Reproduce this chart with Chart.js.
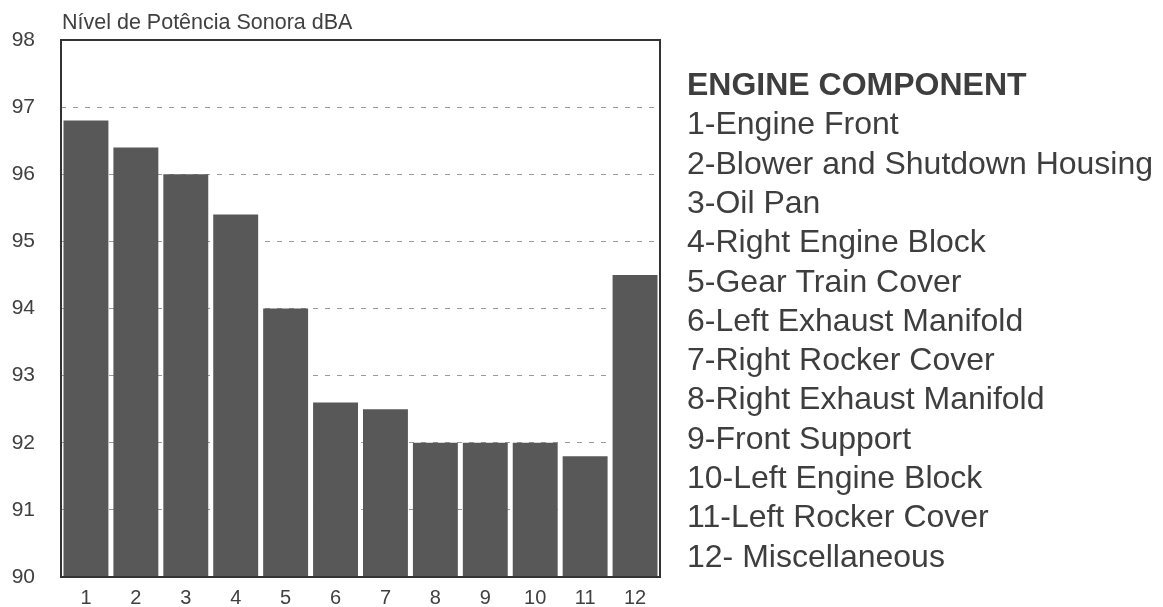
<!DOCTYPE html>
<html>
<head>
<meta charset="utf-8">
<script src="https://cdn.jsdelivr.net/npm/chart.js@4/dist/chart.umd.min.js"></script>
<style>
  html, body { margin: 0; padding: 0; background: #ffffff; }
  #wrap { width: 1163px; height: 607px; position: relative; }
</style>
</head>
<body>
<div id="wrap"><canvas id="c" width="1163" height="607"></canvas></div>
<script>
// ---- data ----
const categories = ['1', '2', '3', '4', '5', '6', '7', '8', '9', '10', '11', '12'];
const soundLevels = [96.8, 96.4, 96.0, 95.4, 94.0, 92.6, 92.5, 92.0, 92.0, 92.0, 91.8, 94.5];
const yTickValues = [90, 91, 92, 93, 94, 95, 96, 97, 98];
const axisTitle = 'Nível de Potência Sonora dBA';
const legendTitle = 'ENGINE COMPONENT';
const componentNames = [
  '1-Engine Front',
  '2-Blower and Shutdown Housing',
  '3-Oil Pan',
  '4-Right Engine Block',
  '5-Gear Train Cover',
  '6-Left Exhaust Manifold',
  '7-Right Rocker Cover',
  '8-Right Exhaust Manifold',
  '9-Front Support',
  '10-Left Engine Block',
  '11-Left Rocker Cover',
  '12- Miscellaneous'
];

// ---- styles ----
const FONT = '"Liberation Sans", Arial, Helvetica, sans-serif';
const TEXT = '#404040';

const framePlugin = {
  id: 'frame',
  afterDatasetsDraw(chart) {
    const a = chart.chartArea, ctx = chart.ctx;
    ctx.save();
    ctx.strokeStyle = '#333333';
    ctx.lineWidth = 2;
    ctx.strokeRect(a.left, a.top, a.right - a.left, a.bottom - a.top);
    ctx.restore();
  },
  afterDraw(chart) {
    const a = chart.chartArea, ctx = chart.ctx;
    ctx.save();
    // axis title above plot
    ctx.fillStyle = TEXT;
    ctx.font = '21.5px ' + FONT;
    ctx.textAlign = 'left';
    ctx.textBaseline = 'alphabetic';
    ctx.fillText(axisTitle, a.left + 1, 29);

    // component list on the right
    const x0 = 687;
    const y0 = 95, step = 39.3;
    ctx.fillStyle = '#3e3e3e';
    ctx.font = 'bold 32px ' + FONT;
    ctx.fillText(legendTitle, x0, y0);
    ctx.font = '32px ' + FONT;
    componentNames.forEach((name, i) => {
      ctx.fillText(name, x0, y0 + (i + 1) * step);
    });
    ctx.restore();
  }
};

new Chart(document.getElementById('c'), {
  type: 'bar',
  data: {
    labels: categories,
    datasets: [{
      data: soundLevels,
      backgroundColor: '#585858',
      borderWidth: 0,
      barPercentage: 0.9,
      categoryPercentage: 1.0
    }]
  },
  options: {
    responsive: false,
    animation: false,
    devicePixelRatio: 1,
    layout: { padding: { left: 0, right: 503, top: 40, bottom: 0 } },
    plugins: {
      legend: { display: false },
      tooltip: { enabled: false },
      title: { display: false }
    },
    scales: {
      x: {
        grid: { display: false, drawTicks: false },
        border: { display: false },
        ticks: {
          color: TEXT,
          font: { family: FONT, size: 20 },
          padding: 9,
          maxRotation: 0
        },
        afterFit(scale) {
          scale.height = 30;
          scale.paddingLeft = 0; scale.paddingRight = 0;
        }
      },
      y: {
        min: 90,
        max: 98,
        grid: {
          drawTicks: false,
          color: '#9a9a9a',
          lineWidth: 1
        },
        border: { display: false, dash: [5, 7] },
        ticks: {
          color: TEXT,
          font: { family: FONT, size: 21 },
          padding: 26,
          stepSize: 1
        },
        afterBuildTicks(scale) {
          scale.ticks = yTickValues.map(v => ({ value: v }));
        },
        afterFit(scale) {
          scale.width = 61;
          scale.paddingTop = 0; scale.paddingBottom = 0;
        }
      }
    }
  },
  plugins: [framePlugin]
});
</script>
</body>
</html>
